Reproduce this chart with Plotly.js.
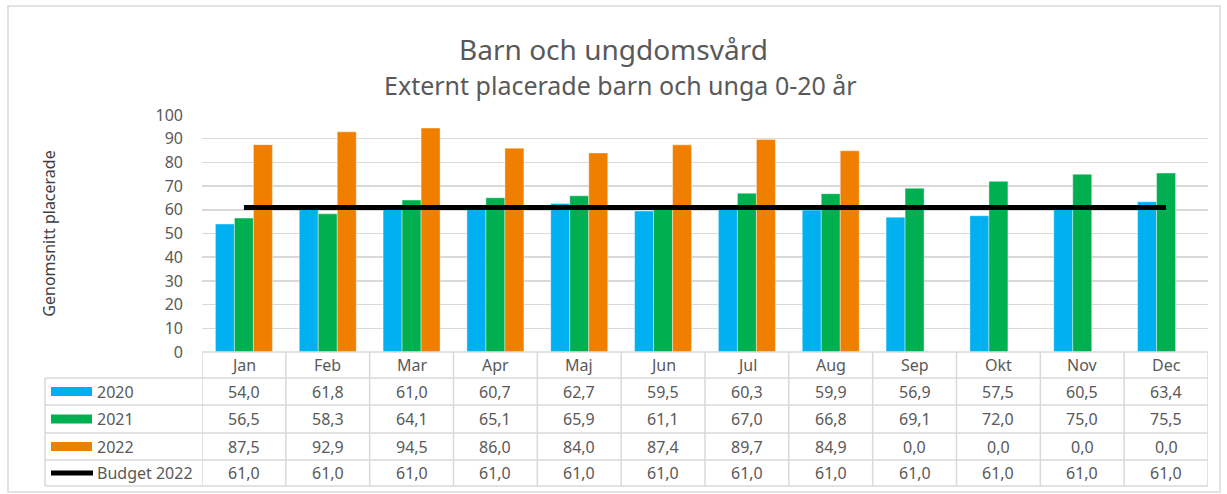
<!DOCTYPE html>
<html>
<head>
<meta charset="utf-8">
<script src="https://cdn.plot.ly/plotly-3.0.1.min.js"></script>
<style>html,body{margin:0;padding:0;background:#fff;}#chart{width:1227px;height:494px;}</style>
</head>
<body>
<div id="chart"></div>
<script>
const months = ['Jan','Feb','Mar','Apr','Maj','Jun','Jul','Aug','Sep','Okt','Nov','Dec'];
const v2020 = [54.0,61.8,61.0,60.7,62.7,59.5,60.3,59.9,56.9,57.5,60.5,63.4];
const v2021 = [56.5,58.3,64.1,65.1,65.9,61.1,67.0,66.8,69.1,72.0,75.0,75.5];
const v2022 = [87.5,92.9,94.5,86.0,84.0,87.4,89.7,84.9,0.0,0.0,0.0,0.0];
const budget = [61.0,61.0,61.0,61.0,61.0,61.0,61.0,61.0,61.0,61.0,61.0,61.0];
const seriesNames = ['2020','2021','2022','Budget 2022'];
const colors = ['#00B0F0','#00B050','#F07F00','#000000'];

const W = 1227, H = 494;
const L = 202, R = 19, T = 115, B = 142;
const plotW = W - L - R, plotH = H - T - B;
const FONT = 'Noto Sans, DejaVu Sans, sans-serif';
const GRAY = '#595959';
const LINE = '#D9D9D9';
const px2x = p => (p - L) / plotW;
const py2y = p => (H - B - p) / plotH;

// table row boundaries in pixels
const rowB = [352, 378, 405, 433, 460, 486];
const rowC = i => (rowB[i] + rowB[i+1]) / 2;
const fmt = v => v.toFixed(1).replace('.', ',');

const barData = [v2020, v2021, v2022];
const traces = barData.map((vals, i) => ({
  type: 'bar', x: months, y: vals, name: seriesNames[i],
  marker: {color: colors[i], line: {width: 0.8, color: 'rgba(255,255,255,0.5)'}},
  hoverinfo: 'skip'
}));
traces.push({
  type: 'scatter', mode: 'lines', x: months, y: budget, name: seriesNames[3],
  line: {color: '#000', width: 5}, hoverinfo: 'skip'
});

const shapes = [];
const annotations = [];
// outer chart border
shapes.push({type:'rect', xref:'paper', yref:'paper', x0:px2x(8), x1:px2x(1220), y0:py2y(6), y1:py2y(492),
  line:{color:LINE, width:1.5}, layer:'below'});
// horizontal table lines
shapes.push({type:'line', xref:'paper', yref:'paper', x0:0, x1:1, y0:py2y(rowB[0]), y1:py2y(rowB[0]), line:{color:LINE, width:1.5}});
for (let r = 1; r < rowB.length; r++) {
  shapes.push({type:'line', xref:'paper', yref:'paper', x0:px2x(45), x1:1, y0:py2y(rowB[r]), y1:py2y(rowB[r]), line:{color:LINE, width:1.5}});
}
// vertical table lines
for (let c = 0; c <= months.length; c++) {
  shapes.push({type:'line', xref:'x', yref:'paper', x0:c-0.5, x1:c-0.5, y0:py2y(rowB[0]), y1:py2y(rowB[5]), line:{color:LINE, width:1.5}});
}
shapes.push({type:'line', xref:'paper', yref:'paper', x0:px2x(45), x1:px2x(45), y0:py2y(rowB[1]), y1:py2y(rowB[5]), line:{color:LINE, width:1.5}});

// header months
months.forEach((m, i) => {
  annotations.push({xref:'x', yref:'paper', x:m, y:py2y(rowC(0)), text:m, showarrow:false,
    font:{family:FONT, size:16, color:GRAY}, xanchor:'center', yanchor:'middle'});
});
// data rows
const rows = [v2020, v2021, v2022, budget];
rows.forEach((vals, r) => {
  vals.forEach((v, i) => {
    annotations.push({xref:'x', yref:'paper', x:months[i], y:py2y(rowC(r+1)), text:fmt(v), showarrow:false,
      font:{family:FONT, size:16, color:GRAY}, xanchor:'center', yanchor:'middle'});
  });
  // legend key
  const yc = py2y(rowC(r+1));
  if (r < 3) {
    shapes.push({type:'rect', xref:'paper', yref:'paper', x0:px2x(51), x1:px2x(92), y0:yc-4.5/plotH, y1:yc+4.5/plotH,
      fillcolor:colors[r], line:{width:0}});
  } else {
    shapes.push({type:'line', xref:'paper', yref:'paper', x0:px2x(51), x1:px2x(93), y0:yc, y1:yc,
      line:{color:'#000', width:5}});
  }
  annotations.push({xref:'paper', yref:'paper', x:px2x(95), y:yc, text:seriesNames[r], showarrow:false,
    font:{family:FONT, size:16, color:GRAY}, xanchor:'left', yanchor:'middle'});
});
// subtitle
annotations.push({xref:'paper', yref:'paper', x:px2x(620), y:py2y(85), text:'Externt placerade barn och unga 0-20 år',
  showarrow:false, font:{family:FONT, size:25, color:GRAY}, xanchor:'center', yanchor:'middle'});

const layout = {
  width: W, height: H,
  margin: {l:L, r:R, t:T, b:B, pad:0},
  paper_bgcolor:'#fff', plot_bgcolor:'#fff',
  showlegend:false,
  barmode:'group', bargap:0.32, bargroupgap:0,
  title:{text:'Barn och ungdomsvård', x:0.5, xref:'container', y:1-50/H, yref:'container', yanchor:'middle',
    font:{family:FONT, size:28, color:GRAY}},
  xaxis:{type:'category', range:[-0.5, 11.5], showticklabels:false, showgrid:false, zeroline:false, showline:false, ticks:''},
  yaxis:{range:[0,100], dtick:10, tick0:0, showgrid:true, gridcolor:LINE, gridwidth:1.5, zeroline:false, showline:false,
    ticks:'', ticklabelstandoff:18, tickfont:{family:FONT, size:16, color:GRAY},
    title:{text:'Genomsnitt placerade', standoff:95, font:{family:FONT, size:16, color:'#404040'}}},
  shapes: shapes,
  annotations: annotations
};
Plotly.newPlot('chart', traces, layout, {staticPlot:true});
</script>
</body>
</html>
